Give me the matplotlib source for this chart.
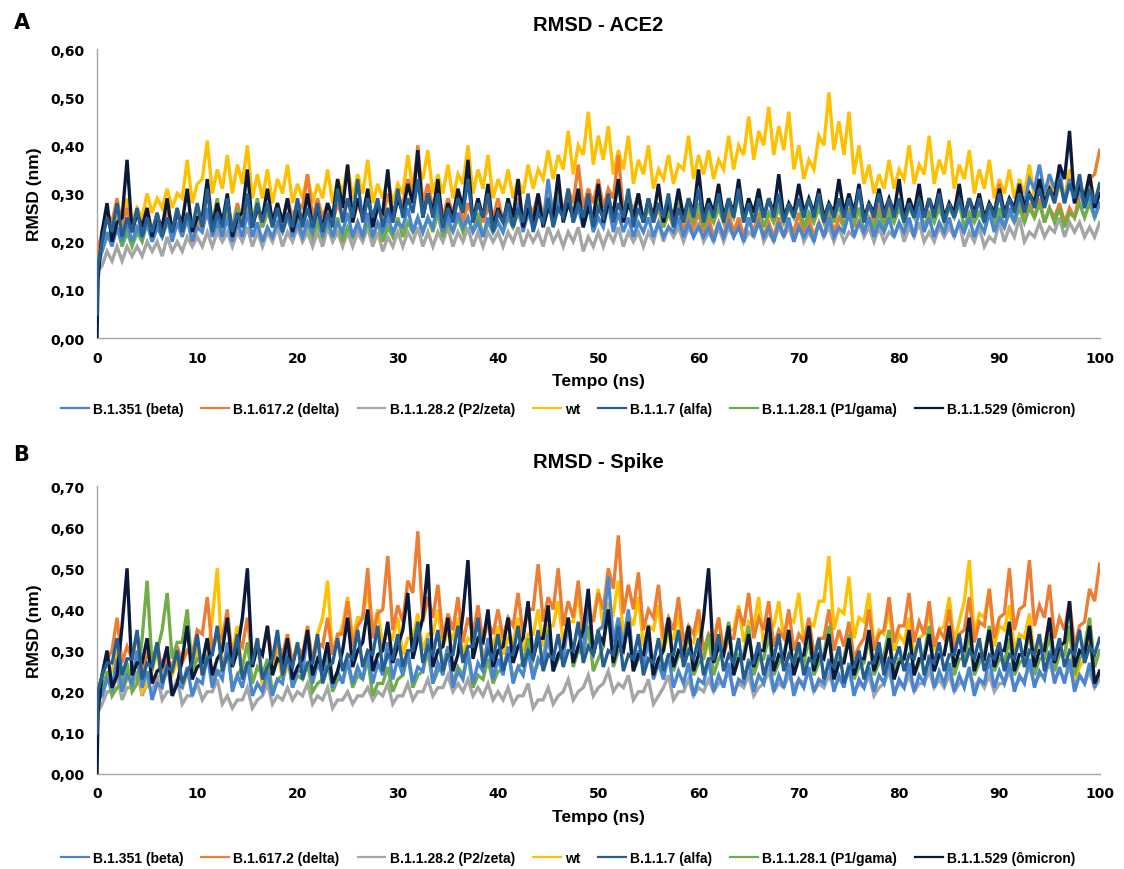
import numpy as np
import matplotlib
matplotlib.use("Agg")
import matplotlib.pyplot as plt
from matplotlib.ticker import FuncFormatter, MultipleLocator

plt.rcParams['font.family'] = ['Liberation Sans', 'DejaVu Sans']

# time axis (ns): start point, first frame, then 0.5 ns steps
t = np.concatenate([[0, 0.1], np.arange(0.5, 100.01, 0.5)])

labels = ["B.1.351 (beta)", "B.1.617.2 (delta)", "B.1.1.28.2 (P2/zeta)", "wt",
          "B.1.1.7 (alfa)", "B.1.1.28.1 (P1/gama)", "B.1.1.529 (ômicron)"]
colors = ["#4A86D0", "#ED7D31", "#A5A5A5", "#FFC000", "#255E91", "#70AD47", "#0B1A3A"]
zorders = [5, 3, 1, 2, 7, 4, 6]

# ---- panel A: ACE2 ----
beta_a = [0.10, 0.15,
          0.18, 0.22, 0.19, 0.23, 0.20, 0.24, 0.20, 0.23, 0.21, 0.24, 0.20, 0.23, 0.21, 0.25, 0.20, 0.24, 0.21, 0.25, 0.20, 0.23,
          0.22, 0.27, 0.21, 0.24, 0.21, 0.25, 0.20, 0.24, 0.21, 0.26, 0.21, 0.24, 0.20, 0.23, 0.21, 0.24, 0.22, 0.26, 0.21, 0.24,
          0.21, 0.24, 0.22, 0.27, 0.21, 0.25, 0.21, 0.24, 0.22, 0.26, 0.21, 0.24, 0.21, 0.26, 0.21, 0.24, 0.22, 0.25, 0.22, 0.24,
          0.23, 0.27, 0.22, 0.25, 0.22, 0.25, 0.23, 0.28, 0.22, 0.25, 0.22, 0.26, 0.23, 0.25, 0.22, 0.24, 0.21, 0.25, 0.22, 0.24,
          0.22, 0.26, 0.23, 0.28, 0.22, 0.26, 0.23, 0.27, 0.24, 0.33, 0.25, 0.29, 0.26, 0.30, 0.24, 0.27, 0.23, 0.28, 0.22, 0.25,
          0.23, 0.28, 0.22, 0.26, 0.22, 0.25, 0.21, 0.24, 0.22, 0.25, 0.21, 0.24, 0.21, 0.23, 0.22, 0.25, 0.21, 0.24, 0.21, 0.23,
          0.21, 0.23, 0.20, 0.24, 0.21, 0.24, 0.21, 0.23, 0.20, 0.25, 0.21, 0.24, 0.21, 0.23, 0.20, 0.24, 0.21, 0.25, 0.20, 0.23,
          0.21, 0.23, 0.20, 0.24, 0.21, 0.25, 0.21, 0.23, 0.22, 0.26, 0.21, 0.24, 0.22, 0.25, 0.21, 0.24, 0.22, 0.25, 0.21, 0.24,
          0.22, 0.25, 0.21, 0.27, 0.22, 0.25, 0.21, 0.24, 0.22, 0.25, 0.21, 0.24, 0.22, 0.25, 0.21, 0.24, 0.22, 0.26, 0.22, 0.25,
          0.23, 0.27, 0.24, 0.30, 0.28, 0.33, 0.31, 0.36, 0.30, 0.34, 0.31, 0.35, 0.28, 0.33, 0.28, 0.31, 0.27, 0.30, 0.25, 0.28]
delta_a = [0.12, 0.18,
           0.22, 0.26, 0.24, 0.29, 0.23, 0.27, 0.22, 0.26, 0.23, 0.27, 0.22, 0.26, 0.22, 0.27, 0.23, 0.26, 0.22, 0.25, 0.20, 0.24,
           0.23, 0.26, 0.22, 0.27, 0.23, 0.26, 0.23, 0.28, 0.24, 0.27, 0.24, 0.27, 0.23, 0.26, 0.24, 0.28, 0.24, 0.29, 0.25, 0.28,
           0.27, 0.34, 0.25, 0.29, 0.25, 0.28, 0.24, 0.28, 0.25, 0.29, 0.24, 0.28, 0.25, 0.29, 0.24, 0.28, 0.25, 0.30, 0.26, 0.29,
           0.28, 0.33, 0.30, 0.40, 0.28, 0.32, 0.27, 0.31, 0.25, 0.29, 0.26, 0.30, 0.24, 0.28, 0.25, 0.29, 0.24, 0.27, 0.25, 0.29,
           0.24, 0.27, 0.25, 0.29, 0.24, 0.28, 0.26, 0.30, 0.25, 0.29, 0.27, 0.32, 0.26, 0.31, 0.28, 0.36, 0.27, 0.31, 0.28, 0.33,
           0.27, 0.31, 0.29, 0.38, 0.26, 0.30, 0.26, 0.30, 0.24, 0.28, 0.24, 0.27, 0.23, 0.26, 0.23, 0.27, 0.22, 0.26, 0.23, 0.26,
           0.22, 0.25, 0.21, 0.24, 0.21, 0.26, 0.22, 0.25, 0.21, 0.25, 0.22, 0.26, 0.21, 0.24, 0.21, 0.25, 0.21, 0.24, 0.22, 0.26,
           0.22, 0.25, 0.21, 0.24, 0.21, 0.26, 0.22, 0.25, 0.23, 0.27, 0.23, 0.27, 0.24, 0.28, 0.24, 0.27, 0.24, 0.28, 0.25, 0.29,
           0.25, 0.29, 0.26, 0.30, 0.25, 0.29, 0.25, 0.29, 0.25, 0.28, 0.26, 0.30, 0.25, 0.29, 0.25, 0.29, 0.24, 0.28, 0.26, 0.32,
           0.25, 0.29, 0.26, 0.30, 0.24, 0.28, 0.25, 0.29, 0.24, 0.27, 0.25, 0.28, 0.24, 0.27, 0.25, 0.30, 0.28, 0.33, 0.34, 0.39]
zeta_a = [0.10, 0.14,
          0.15, 0.18, 0.16, 0.19, 0.16, 0.19, 0.17, 0.19, 0.17, 0.20, 0.18, 0.20, 0.17, 0.21, 0.18, 0.20, 0.18, 0.21, 0.19, 0.21,
          0.19, 0.22, 0.19, 0.22, 0.20, 0.22, 0.19, 0.22, 0.20, 0.23, 0.19, 0.22, 0.19, 0.22, 0.20, 0.23, 0.19, 0.22, 0.20, 0.23,
          0.20, 0.22, 0.19, 0.22, 0.19, 0.23, 0.20, 0.22, 0.19, 0.22, 0.19, 0.22, 0.20, 0.23, 0.19, 0.22, 0.18, 0.21, 0.19, 0.22,
          0.19, 0.22, 0.20, 0.23, 0.19, 0.22, 0.19, 0.22, 0.20, 0.23, 0.19, 0.22, 0.20, 0.23, 0.19, 0.22, 0.19, 0.22, 0.20, 0.22,
          0.19, 0.22, 0.20, 0.23, 0.19, 0.22, 0.20, 0.22, 0.19, 0.23, 0.20, 0.22, 0.19, 0.22, 0.20, 0.23, 0.18, 0.21, 0.19, 0.22,
          0.19, 0.22, 0.20, 0.23, 0.19, 0.22, 0.20, 0.22, 0.19, 0.22, 0.20, 0.24, 0.20, 0.23, 0.21, 0.23, 0.20, 0.23, 0.21, 0.24,
          0.20, 0.22, 0.20, 0.23, 0.20, 0.23, 0.21, 0.24, 0.20, 0.22, 0.21, 0.25, 0.20, 0.22, 0.20, 0.23, 0.21, 0.23, 0.20, 0.24,
          0.20, 0.22, 0.20, 0.24, 0.21, 0.23, 0.20, 0.23, 0.20, 0.22, 0.21, 0.24, 0.21, 0.23, 0.20, 0.23, 0.20, 0.22, 0.21, 0.24,
          0.20, 0.23, 0.21, 0.24, 0.20, 0.22, 0.20, 0.23, 0.21, 0.23, 0.21, 0.24, 0.19, 0.22, 0.20, 0.23, 0.19, 0.21, 0.20, 0.24,
          0.20, 0.23, 0.21, 0.25, 0.20, 0.22, 0.21, 0.24, 0.21, 0.23, 0.22, 0.25, 0.21, 0.24, 0.22, 0.24, 0.21, 0.23, 0.21, 0.24]
wt_a = [0.15, 0.20,
        0.20, 0.26, 0.23, 0.25, 0.24, 0.29, 0.24, 0.27, 0.25, 0.30, 0.26, 0.29, 0.27, 0.31, 0.27, 0.30, 0.29, 0.37, 0.28, 0.32,
        0.33, 0.41, 0.30, 0.35, 0.31, 0.38, 0.30, 0.36, 0.32, 0.40, 0.29, 0.34, 0.29, 0.35, 0.28, 0.33, 0.30, 0.36, 0.28, 0.32,
        0.29, 0.34, 0.28, 0.32, 0.29, 0.35, 0.28, 0.33, 0.30, 0.36, 0.29, 0.34, 0.30, 0.37, 0.28, 0.32, 0.29, 0.33, 0.28, 0.32,
        0.30, 0.38, 0.31, 0.36, 0.33, 0.39, 0.30, 0.34, 0.30, 0.36, 0.29, 0.34, 0.32, 0.40, 0.30, 0.35, 0.31, 0.38, 0.29, 0.33,
        0.30, 0.35, 0.29, 0.33, 0.30, 0.36, 0.31, 0.35, 0.33, 0.39, 0.33, 0.38, 0.35, 0.43, 0.34, 0.40, 0.38, 0.47, 0.36, 0.42,
        0.37, 0.44, 0.34, 0.39, 0.35, 0.42, 0.32, 0.37, 0.34, 0.40, 0.31, 0.35, 0.33, 0.38, 0.32, 0.36, 0.35, 0.42, 0.33, 0.38,
        0.34, 0.39, 0.33, 0.37, 0.35, 0.42, 0.35, 0.40, 0.38, 0.46, 0.37, 0.43, 0.40, 0.48, 0.38, 0.44, 0.39, 0.47, 0.35, 0.40,
        0.33, 0.37, 0.35, 0.42, 0.40, 0.51, 0.39, 0.45, 0.38, 0.47, 0.34, 0.40, 0.32, 0.36, 0.30, 0.34, 0.31, 0.37, 0.31, 0.35,
        0.33, 0.40, 0.32, 0.36, 0.34, 0.42, 0.32, 0.37, 0.34, 0.41, 0.31, 0.36, 0.33, 0.39, 0.30, 0.35, 0.31, 0.37, 0.29, 0.33,
        0.30, 0.35, 0.29, 0.33, 0.30, 0.36, 0.29, 0.33, 0.29, 0.34, 0.28, 0.32, 0.29, 0.35, 0.28, 0.33, 0.29, 0.34, 0.28, 0.32]
alfa_a = [0.05, 0.15,
          0.20, 0.25, 0.22, 0.28, 0.21, 0.25, 0.22, 0.27, 0.21, 0.25, 0.22, 0.26, 0.21, 0.25, 0.22, 0.27, 0.22, 0.26, 0.23, 0.28,
          0.23, 0.31, 0.22, 0.26, 0.23, 0.29, 0.22, 0.26, 0.23, 0.30, 0.23, 0.28, 0.24, 0.28, 0.23, 0.27, 0.22, 0.26, 0.23, 0.29,
          0.23, 0.27, 0.23, 0.28, 0.22, 0.26, 0.23, 0.31, 0.24, 0.29, 0.25, 0.33, 0.24, 0.29, 0.25, 0.29, 0.23, 0.27, 0.24, 0.31,
          0.25, 0.29, 0.26, 0.33, 0.25, 0.30, 0.25, 0.30, 0.23, 0.27, 0.24, 0.29, 0.26, 0.33, 0.24, 0.28, 0.25, 0.30, 0.22, 0.26,
          0.24, 0.28, 0.23, 0.27, 0.24, 0.30, 0.22, 0.26, 0.24, 0.29, 0.23, 0.27, 0.25, 0.31, 0.24, 0.28, 0.25, 0.30, 0.23, 0.27,
          0.25, 0.30, 0.24, 0.28, 0.25, 0.31, 0.23, 0.27, 0.24, 0.29, 0.24, 0.28, 0.25, 0.30, 0.23, 0.27, 0.24, 0.29, 0.25, 0.31,
          0.24, 0.28, 0.25, 0.30, 0.24, 0.29, 0.25, 0.31, 0.24, 0.28, 0.24, 0.29, 0.25, 0.29, 0.25, 0.30, 0.24, 0.28, 0.25, 0.29,
          0.25, 0.29, 0.25, 0.30, 0.24, 0.28, 0.25, 0.29, 0.25, 0.29, 0.25, 0.31, 0.24, 0.28, 0.25, 0.30, 0.25, 0.29, 0.25, 0.29,
          0.24, 0.28, 0.25, 0.29, 0.25, 0.29, 0.25, 0.30, 0.24, 0.28, 0.25, 0.29, 0.25, 0.29, 0.25, 0.29, 0.24, 0.28, 0.25, 0.30,
          0.25, 0.29, 0.26, 0.30, 0.26, 0.30, 0.27, 0.31, 0.27, 0.31, 0.28, 0.33, 0.28, 0.32, 0.29, 0.34, 0.27, 0.31, 0.28, 0.32]
gama_a = [0.12, 0.17,
          0.18, 0.21, 0.20, 0.23, 0.19, 0.22, 0.19, 0.22, 0.20, 0.24, 0.20, 0.23, 0.21, 0.24, 0.22, 0.27, 0.22, 0.25, 0.23, 0.26,
          0.23, 0.27, 0.24, 0.29, 0.22, 0.26, 0.23, 0.27, 0.23, 0.26, 0.24, 0.29, 0.23, 0.27, 0.23, 0.27, 0.22, 0.25, 0.22, 0.26,
          0.21, 0.24, 0.21, 0.24, 0.21, 0.24, 0.21, 0.25, 0.20, 0.23, 0.21, 0.24, 0.21, 0.24, 0.21, 0.24, 0.20, 0.23, 0.21, 0.25,
          0.21, 0.24, 0.22, 0.25, 0.22, 0.25, 0.22, 0.26, 0.21, 0.24, 0.22, 0.25, 0.22, 0.25, 0.22, 0.26, 0.21, 0.24, 0.22, 0.24,
          0.22, 0.25, 0.23, 0.26, 0.23, 0.27, 0.24, 0.28, 0.24, 0.27, 0.25, 0.31, 0.25, 0.28, 0.26, 0.30, 0.24, 0.27, 0.25, 0.29,
          0.25, 0.28, 0.26, 0.32, 0.25, 0.29, 0.26, 0.30, 0.24, 0.27, 0.24, 0.28, 0.23, 0.26, 0.24, 0.29, 0.24, 0.27, 0.24, 0.28,
          0.23, 0.26, 0.24, 0.27, 0.24, 0.27, 0.25, 0.30, 0.24, 0.28, 0.24, 0.28, 0.23, 0.26, 0.24, 0.27, 0.24, 0.27, 0.25, 0.29,
          0.23, 0.26, 0.24, 0.27, 0.24, 0.27, 0.24, 0.28, 0.23, 0.26, 0.24, 0.27, 0.22, 0.25, 0.23, 0.26, 0.23, 0.26, 0.24, 0.27,
          0.24, 0.27, 0.25, 0.28, 0.23, 0.26, 0.24, 0.27, 0.24, 0.27, 0.25, 0.28, 0.23, 0.26, 0.24, 0.26, 0.24, 0.27, 0.24, 0.27,
          0.23, 0.26, 0.24, 0.27, 0.24, 0.27, 0.25, 0.28, 0.24, 0.27, 0.24, 0.27, 0.23, 0.26, 0.25, 0.28, 0.25, 0.28, 0.25, 0.28]
omicron_a = [0.00, 0.12,
             0.22, 0.28, 0.20, 0.24, 0.25, 0.37, 0.22, 0.26, 0.23, 0.27, 0.21, 0.25, 0.23, 0.29, 0.22, 0.26, 0.24, 0.31, 0.22, 0.25,
             0.25, 0.33, 0.23, 0.28, 0.24, 0.30, 0.21, 0.25, 0.26, 0.35, 0.23, 0.27, 0.25, 0.31, 0.24, 0.28, 0.24, 0.29, 0.22, 0.26,
             0.24, 0.30, 0.23, 0.27, 0.23, 0.28, 0.25, 0.33, 0.27, 0.36, 0.24, 0.29, 0.25, 0.31, 0.23, 0.27, 0.26, 0.35, 0.24, 0.29,
             0.26, 0.32, 0.28, 0.39, 0.25, 0.30, 0.26, 0.33, 0.23, 0.28, 0.25, 0.31, 0.27, 0.37, 0.24, 0.29, 0.25, 0.32, 0.23, 0.27,
             0.24, 0.29, 0.25, 0.33, 0.23, 0.27, 0.24, 0.30, 0.23, 0.27, 0.25, 0.34, 0.24, 0.28, 0.25, 0.31, 0.23, 0.27, 0.25, 0.32,
             0.24, 0.28, 0.26, 0.33, 0.24, 0.28, 0.25, 0.30, 0.24, 0.29, 0.25, 0.32, 0.24, 0.28, 0.25, 0.31, 0.25, 0.29, 0.26, 0.35,
             0.25, 0.29, 0.26, 0.32, 0.25, 0.29, 0.26, 0.33, 0.25, 0.29, 0.26, 0.31, 0.25, 0.29, 0.26, 0.34, 0.25, 0.28, 0.26, 0.32,
             0.26, 0.29, 0.26, 0.31, 0.25, 0.28, 0.26, 0.33, 0.26, 0.30, 0.26, 0.32, 0.25, 0.28, 0.26, 0.31, 0.26, 0.29, 0.26, 0.33,
             0.25, 0.29, 0.26, 0.32, 0.25, 0.29, 0.26, 0.31, 0.25, 0.28, 0.26, 0.32, 0.25, 0.29, 0.26, 0.30, 0.25, 0.28, 0.26, 0.31,
             0.26, 0.29, 0.27, 0.32, 0.27, 0.30, 0.28, 0.33, 0.28, 0.31, 0.29, 0.36, 0.33, 0.43, 0.28, 0.32, 0.29, 0.34, 0.27, 0.30]

# ---- panel B: Spike ----
beta_b = [0.10, 0.18,
          0.19, 0.23, 0.21, 0.28, 0.20, 0.24, 0.22, 0.30, 0.21, 0.25, 0.18, 0.22, 0.21, 0.27, 0.19, 0.22, 0.21, 0.26, 0.19, 0.23,
          0.22, 0.29, 0.21, 0.25, 0.23, 0.32, 0.20, 0.24, 0.21, 0.27, 0.19, 0.22, 0.20, 0.25, 0.19, 0.23, 0.22, 0.30, 0.21, 0.25,
          0.25, 0.34, 0.22, 0.27, 0.24, 0.31, 0.21, 0.25, 0.22, 0.28, 0.22, 0.26, 0.23, 0.30, 0.22, 0.27, 0.24, 0.32, 0.23, 0.28,
          0.24, 0.30, 0.22, 0.26, 0.25, 0.33, 0.22, 0.27, 0.24, 0.31, 0.21, 0.25, 0.23, 0.30, 0.22, 0.27, 0.25, 0.33, 0.23, 0.28,
          0.24, 0.31, 0.22, 0.26, 0.24, 0.30, 0.23, 0.28, 0.26, 0.34, 0.25, 0.29, 0.28, 0.37, 0.27, 0.31, 0.30, 0.42, 0.29, 0.35,
          0.36, 0.48, 0.32, 0.38, 0.31, 0.40, 0.26, 0.30, 0.26, 0.33, 0.23, 0.27, 0.23, 0.29, 0.21, 0.25, 0.22, 0.27, 0.19, 0.23,
          0.22, 0.28, 0.20, 0.24, 0.21, 0.27, 0.19, 0.23, 0.22, 0.28, 0.20, 0.24, 0.22, 0.29, 0.20, 0.24, 0.21, 0.27, 0.19, 0.23,
          0.21, 0.26, 0.20, 0.23, 0.22, 0.28, 0.20, 0.24, 0.21, 0.27, 0.19, 0.23, 0.21, 0.26, 0.20, 0.24, 0.22, 0.28, 0.19, 0.23,
          0.21, 0.27, 0.20, 0.24, 0.22, 0.29, 0.21, 0.25, 0.22, 0.27, 0.20, 0.24, 0.21, 0.26, 0.19, 0.23, 0.22, 0.28, 0.21, 0.25,
          0.22, 0.27, 0.20, 0.24, 0.22, 0.28, 0.21, 0.25, 0.23, 0.30, 0.22, 0.26, 0.22, 0.28, 0.20, 0.24, 0.22, 0.27, 0.21, 0.25]
delta_b = [0.12, 0.20,
           0.24, 0.28, 0.30, 0.38, 0.27, 0.31, 0.28, 0.34, 0.25, 0.29, 0.27, 0.32, 0.25, 0.28, 0.26, 0.31, 0.27, 0.30, 0.29, 0.35,
           0.34, 0.43, 0.30, 0.34, 0.33, 0.40, 0.28, 0.33, 0.31, 0.38, 0.27, 0.31, 0.29, 0.36, 0.27, 0.32, 0.29, 0.34, 0.27, 0.31,
           0.29, 0.36, 0.27, 0.32, 0.31, 0.38, 0.29, 0.34, 0.34, 0.42, 0.31, 0.36, 0.38, 0.50, 0.33, 0.39, 0.40, 0.53, 0.35, 0.41,
           0.37, 0.47, 0.44, 0.59, 0.37, 0.43, 0.38, 0.46, 0.33, 0.39, 0.35, 0.43, 0.32, 0.38, 0.34, 0.41, 0.32, 0.37, 0.34, 0.40,
           0.33, 0.38, 0.36, 0.44, 0.34, 0.40, 0.40, 0.51, 0.37, 0.43, 0.40, 0.50, 0.36, 0.42, 0.38, 0.47, 0.35, 0.40, 0.37, 0.44,
           0.40, 0.50, 0.45, 0.58, 0.39, 0.46, 0.40, 0.49, 0.35, 0.40, 0.38, 0.46, 0.33, 0.38, 0.35, 0.43, 0.32, 0.36, 0.34, 0.40,
           0.30, 0.34, 0.32, 0.38, 0.29, 0.33, 0.33, 0.40, 0.36, 0.44, 0.33, 0.38, 0.35, 0.42, 0.31, 0.35, 0.33, 0.40, 0.30, 0.34,
           0.32, 0.38, 0.29, 0.33, 0.33, 0.40, 0.30, 0.35, 0.31, 0.37, 0.28, 0.31, 0.33, 0.40, 0.30, 0.34, 0.35, 0.43, 0.32, 0.36,
           0.36, 0.44, 0.32, 0.37, 0.34, 0.42, 0.31, 0.35, 0.33, 0.40, 0.30, 0.34, 0.35, 0.43, 0.32, 0.37, 0.36, 0.45, 0.33, 0.38,
           0.39, 0.50, 0.35, 0.40, 0.41, 0.52, 0.36, 0.41, 0.38, 0.46, 0.33, 0.38, 0.35, 0.42, 0.31, 0.36, 0.37, 0.45, 0.42, 0.51]
zeta_b = [0.10, 0.15,
          0.17, 0.20, 0.20, 0.24, 0.18, 0.21, 0.21, 0.25, 0.19, 0.22, 0.20, 0.24, 0.18, 0.20, 0.20, 0.23, 0.17, 0.19, 0.19, 0.22,
          0.18, 0.20, 0.20, 0.23, 0.17, 0.19, 0.16, 0.18, 0.18, 0.21, 0.16, 0.18, 0.19, 0.22, 0.17, 0.19, 0.18, 0.21, 0.18, 0.20,
          0.19, 0.22, 0.17, 0.19, 0.18, 0.21, 0.16, 0.18, 0.18, 0.20, 0.17, 0.19, 0.19, 0.21, 0.18, 0.20, 0.19, 0.22, 0.17, 0.19,
          0.19, 0.22, 0.18, 0.20, 0.20, 0.23, 0.19, 0.21, 0.21, 0.24, 0.20, 0.22, 0.20, 0.23, 0.19, 0.21, 0.19, 0.22, 0.18, 0.20,
          0.18, 0.21, 0.17, 0.19, 0.19, 0.22, 0.16, 0.18, 0.18, 0.21, 0.17, 0.19, 0.20, 0.23, 0.18, 0.20, 0.21, 0.24, 0.19, 0.21,
          0.22, 0.25, 0.20, 0.22, 0.21, 0.24, 0.18, 0.20, 0.20, 0.23, 0.17, 0.19, 0.21, 0.24, 0.18, 0.20, 0.20, 0.23, 0.19, 0.21,
          0.20, 0.23, 0.20, 0.22, 0.22, 0.25, 0.20, 0.22, 0.21, 0.24, 0.19, 0.21, 0.22, 0.25, 0.20, 0.22, 0.21, 0.24, 0.21, 0.23,
          0.22, 0.25, 0.20, 0.22, 0.21, 0.24, 0.21, 0.23, 0.22, 0.25, 0.20, 0.22, 0.21, 0.24, 0.19, 0.21, 0.22, 0.25, 0.20, 0.22,
          0.21, 0.24, 0.20, 0.22, 0.22, 0.25, 0.21, 0.23, 0.21, 0.24, 0.20, 0.22, 0.22, 0.25, 0.21, 0.23, 0.21, 0.24, 0.20, 0.22,
          0.22, 0.25, 0.21, 0.23, 0.23, 0.26, 0.22, 0.24, 0.24, 0.27, 0.23, 0.25, 0.23, 0.26, 0.22, 0.24, 0.22, 0.25, 0.21, 0.23]
wt_b = [0.10, 0.18,
        0.20, 0.24, 0.25, 0.30, 0.20, 0.23, 0.24, 0.29, 0.20, 0.22, 0.25, 0.30, 0.22, 0.25, 0.24, 0.28, 0.21, 0.24, 0.26, 0.31,
        0.24, 0.28, 0.38, 0.50, 0.26, 0.30, 0.30, 0.36, 0.24, 0.27, 0.28, 0.33, 0.21, 0.24, 0.26, 0.30, 0.23, 0.26, 0.27, 0.32,
        0.24, 0.27, 0.28, 0.34, 0.38, 0.47, 0.29, 0.33, 0.36, 0.43, 0.33, 0.38, 0.38, 0.45, 0.35, 0.40, 0.31, 0.35, 0.33, 0.38,
        0.29, 0.33, 0.33, 0.39, 0.30, 0.34, 0.34, 0.40, 0.31, 0.35, 0.33, 0.38, 0.29, 0.33, 0.32, 0.37, 0.28, 0.32, 0.31, 0.36,
        0.29, 0.33, 0.32, 0.38, 0.30, 0.34, 0.34, 0.40, 0.31, 0.36, 0.36, 0.42, 0.32, 0.37, 0.37, 0.44, 0.33, 0.38, 0.38, 0.45,
        0.35, 0.41, 0.39, 0.47, 0.34, 0.39, 0.36, 0.43, 0.31, 0.36, 0.35, 0.41, 0.30, 0.34, 0.33, 0.39, 0.29, 0.33, 0.32, 0.37,
        0.28, 0.32, 0.32, 0.38, 0.30, 0.35, 0.35, 0.41, 0.32, 0.37, 0.36, 0.43, 0.31, 0.36, 0.36, 0.42, 0.33, 0.38, 0.37, 0.44,
        0.32, 0.37, 0.36, 0.42, 0.42, 0.53, 0.35, 0.40, 0.39, 0.48, 0.33, 0.38, 0.37, 0.44, 0.31, 0.35, 0.34, 0.40, 0.30, 0.34,
        0.32, 0.38, 0.29, 0.33, 0.34, 0.40, 0.30, 0.35, 0.36, 0.43, 0.32, 0.37, 0.42, 0.52, 0.34, 0.39, 0.38, 0.45, 0.31, 0.36,
        0.35, 0.41, 0.30, 0.34, 0.33, 0.39, 0.28, 0.32, 0.31, 0.37, 0.26, 0.30, 0.29, 0.35, 0.23, 0.26, 0.28, 0.33, 0.22, 0.24]
alfa_b = [0.10, 0.20,
          0.24, 0.27, 0.27, 0.33, 0.24, 0.28, 0.28, 0.35, 0.23, 0.27, 0.26, 0.32, 0.22, 0.26, 0.25, 0.30, 0.22, 0.25, 0.27, 0.34,
          0.24, 0.28, 0.29, 0.36, 0.25, 0.29, 0.27, 0.34, 0.23, 0.27, 0.27, 0.33, 0.23, 0.26, 0.28, 0.35, 0.24, 0.28, 0.26, 0.32,
          0.23, 0.27, 0.27, 0.34, 0.22, 0.26, 0.27, 0.33, 0.25, 0.29, 0.28, 0.35, 0.26, 0.30, 0.29, 0.36, 0.25, 0.29, 0.28, 0.34,
          0.26, 0.30, 0.30, 0.37, 0.27, 0.31, 0.29, 0.35, 0.25, 0.29, 0.29, 0.36, 0.27, 0.31, 0.31, 0.38, 0.26, 0.30, 0.28, 0.34,
          0.25, 0.29, 0.29, 0.36, 0.26, 0.30, 0.28, 0.35, 0.25, 0.29, 0.28, 0.34, 0.26, 0.30, 0.30, 0.37, 0.27, 0.31, 0.29, 0.35,
          0.26, 0.30, 0.29, 0.36, 0.25, 0.29, 0.28, 0.34, 0.24, 0.28, 0.27, 0.33, 0.25, 0.29, 0.29, 0.35, 0.26, 0.30, 0.28, 0.33,
          0.24, 0.28, 0.28, 0.34, 0.25, 0.29, 0.27, 0.33, 0.23, 0.27, 0.27, 0.32, 0.24, 0.28, 0.28, 0.34, 0.25, 0.29, 0.27, 0.32,
          0.24, 0.28, 0.27, 0.33, 0.23, 0.27, 0.26, 0.31, 0.22, 0.26, 0.26, 0.30, 0.23, 0.27, 0.27, 0.32, 0.24, 0.28, 0.27, 0.31,
          0.25, 0.29, 0.28, 0.33, 0.24, 0.28, 0.27, 0.32, 0.25, 0.29, 0.29, 0.34, 0.26, 0.30, 0.28, 0.33, 0.25, 0.29, 0.28, 0.32,
          0.25, 0.29, 0.28, 0.33, 0.26, 0.30, 0.29, 0.34, 0.25, 0.29, 0.28, 0.33, 0.26, 0.30, 0.29, 0.35, 0.27, 0.31, 0.29, 0.33]
gama_b = [0.12, 0.20,
          0.20, 0.25, 0.19, 0.21, 0.22, 0.27, 0.20, 0.22, 0.33, 0.47, 0.26, 0.30, 0.35, 0.44, 0.28, 0.32, 0.32, 0.40, 0.25, 0.28,
          0.27, 0.33, 0.22, 0.25, 0.25, 0.30, 0.21, 0.24, 0.26, 0.32, 0.22, 0.26, 0.24, 0.28, 0.20, 0.23, 0.24, 0.29, 0.21, 0.24,
          0.23, 0.27, 0.20, 0.22, 0.23, 0.28, 0.20, 0.23, 0.23, 0.27, 0.21, 0.24, 0.23, 0.28, 0.19, 0.22, 0.22, 0.26, 0.20, 0.23,
          0.24, 0.29, 0.21, 0.24, 0.25, 0.30, 0.22, 0.25, 0.26, 0.31, 0.22, 0.26, 0.24, 0.29, 0.21, 0.24, 0.23, 0.28, 0.22, 0.25,
          0.25, 0.30, 0.23, 0.26, 0.27, 0.33, 0.24, 0.27, 0.28, 0.35, 0.25, 0.28, 0.30, 0.38, 0.26, 0.30, 0.29, 0.36, 0.25, 0.28,
          0.31, 0.40, 0.26, 0.30, 0.30, 0.37, 0.25, 0.28, 0.28, 0.34, 0.24, 0.27, 0.30, 0.38, 0.25, 0.29, 0.28, 0.35, 0.24, 0.27,
          0.28, 0.34, 0.24, 0.28, 0.30, 0.37, 0.25, 0.29, 0.29, 0.36, 0.24, 0.28, 0.28, 0.34, 0.24, 0.27, 0.29, 0.35, 0.25, 0.29,
          0.27, 0.33, 0.24, 0.27, 0.29, 0.36, 0.24, 0.28, 0.28, 0.34, 0.23, 0.26, 0.27, 0.33, 0.24, 0.27, 0.29, 0.35, 0.24, 0.28,
          0.28, 0.34, 0.24, 0.27, 0.29, 0.36, 0.25, 0.29, 0.29, 0.35, 0.24, 0.28, 0.28, 0.34, 0.24, 0.27, 0.29, 0.36, 0.25, 0.28,
          0.27, 0.33, 0.24, 0.27, 0.28, 0.35, 0.24, 0.28, 0.28, 0.34, 0.25, 0.29, 0.29, 0.36, 0.24, 0.28, 0.31, 0.38, 0.26, 0.30]
omicron_b = [0.00, 0.15,
             0.24, 0.30, 0.21, 0.24, 0.36, 0.50, 0.24, 0.27, 0.27, 0.33, 0.22, 0.25, 0.26, 0.31, 0.19, 0.22, 0.28, 0.36, 0.23, 0.26,
             0.27, 0.33, 0.24, 0.28, 0.30, 0.38, 0.26, 0.30, 0.38, 0.50, 0.26, 0.31, 0.29, 0.36, 0.24, 0.28, 0.27, 0.33, 0.23, 0.26,
             0.28, 0.35, 0.24, 0.28, 0.26, 0.32, 0.22, 0.25, 0.30, 0.38, 0.26, 0.30, 0.32, 0.40, 0.25, 0.29, 0.30, 0.37, 0.27, 0.31,
             0.35, 0.44, 0.28, 0.33, 0.38, 0.51, 0.26, 0.30, 0.31, 0.38, 0.25, 0.29, 0.39, 0.52, 0.28, 0.33, 0.32, 0.40, 0.26, 0.30,
             0.31, 0.38, 0.27, 0.31, 0.33, 0.42, 0.28, 0.33, 0.33, 0.41, 0.25, 0.29, 0.31, 0.38, 0.27, 0.31, 0.35, 0.45, 0.29, 0.34,
             0.32, 0.40, 0.27, 0.32, 0.30, 0.37, 0.25, 0.29, 0.29, 0.36, 0.24, 0.28, 0.30, 0.38, 0.26, 0.30, 0.29, 0.36, 0.25, 0.29,
             0.38, 0.50, 0.27, 0.31, 0.29, 0.36, 0.24, 0.28, 0.28, 0.34, 0.26, 0.30, 0.30, 0.38, 0.25, 0.29, 0.28, 0.35, 0.24, 0.28,
             0.29, 0.36, 0.25, 0.29, 0.28, 0.34, 0.23, 0.27, 0.27, 0.33, 0.24, 0.28, 0.28, 0.35, 0.25, 0.29, 0.27, 0.33, 0.23, 0.27,
             0.28, 0.35, 0.24, 0.28, 0.28, 0.34, 0.25, 0.29, 0.29, 0.36, 0.26, 0.30, 0.30, 0.38, 0.25, 0.29, 0.28, 0.35, 0.26, 0.30,
             0.30, 0.37, 0.25, 0.29, 0.29, 0.36, 0.26, 0.30, 0.30, 0.38, 0.27, 0.31, 0.32, 0.42, 0.26, 0.30, 0.29, 0.36, 0.22, 0.25]

series_a = [beta_a, delta_a, zeta_a, wt_a, alfa_a, gama_a, omicron_a]
series_b = [beta_b, delta_b, zeta_b, wt_b, alfa_b, gama_b, omicron_b]


def comma(v, pos):
    return f"{v:.2f}".replace('.', ',')


def draw(ax, series, ymax, title, legend_y):
    for y, lab, c, z in zip(series, labels, colors, zorders):
        ax.plot(t, y, color=c, lw=2.4, label=lab, zorder=z, solid_joinstyle='miter')
    ax.set_xlim(0, 100)
    ax.set_ylim(0, ymax)
    ax.xaxis.set_major_locator(MultipleLocator(10))
    ax.yaxis.set_major_locator(MultipleLocator(0.1))
    ax.yaxis.set_major_formatter(FuncFormatter(comma))
    for s in ['top', 'right']:
        ax.spines[s].set_visible(False)
    for s in ['left', 'bottom']:
        ax.spines[s].set_color('#A6A6A6')
        ax.spines[s].set_linewidth(1.0)
    ax.tick_params(length=0, pad=9, labelsize=10)
    for lbl in ax.get_xticklabels() + ax.get_yticklabels():
        lbl.set_fontweight('bold')
        lbl.set_family('DejaVu Sans')
    ax.set_xlabel('Tempo (ns)', fontsize=12.5, fontweight='bold', labelpad=6)
    ax.set_ylabel('RMSD (nm)', fontsize=12.5, fontweight='bold', labelpad=6)
    ax.set_title(title, fontsize=14.5, fontweight='bold', pad=14)
    leg = ax.legend(loc='center', bbox_to_anchor=(0.47, legend_y), ncol=7, frameon=False,
                    handlelength=2.0, handletextpad=0.3, columnspacing=1.3,
                    prop={'weight': 'bold', 'size': 10})
    for h in leg.get_lines():
        h.set_linewidth(1.6)


fig = plt.figure(figsize=(11.24, 8.70), dpi=100)
ax1 = fig.add_axes([0.0863, 0.6103, 0.892, 0.3322])
ax2 = fig.add_axes([0.0863, 0.1092, 0.892, 0.3310])

draw(ax1, series_a, 0.60, 'RMSD - ACE2', -0.245)
draw(ax2, series_b, 0.70, 'RMSD - Spike', -0.29)

fig.text(0.012, 0.985, 'A', fontsize=15, fontweight='heavy', va='top', family='DejaVu Sans')
fig.text(0.012, 0.488, 'B', fontsize=15, fontweight='heavy', va='top', family='DejaVu Sans')

fig.savefig('out.png', dpi=100)
